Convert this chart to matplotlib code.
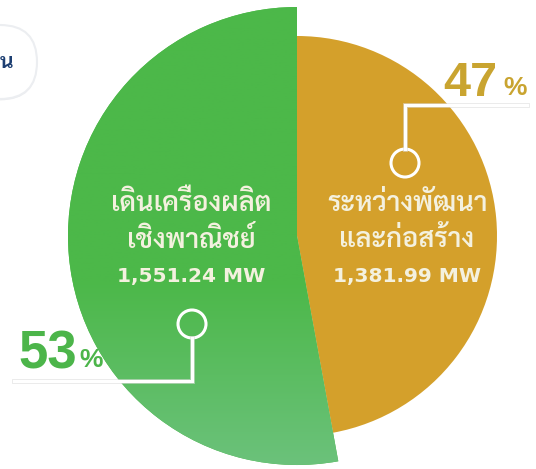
import matplotlib
matplotlib.use("Agg")
import numpy as np
import matplotlib.pyplot as plt
from matplotlib import font_manager
from matplotlib.patches import Circle, FancyBboxPatch
import matplotlib.patheffects as pe

# ---------------- data ----------------
categories = ["เดินเครื่องผลิต\nเชิงพาณิชย์", "ระหว่างพัฒนา\nและก่อสร้าง"]
capacity_mw = [1551.24, 1381.99]
percent_labels = ["53", "47"]
mw_labels = ["1,551.24 MW", "1,381.99 MW"]

# ---------------- fonts ----------------
available = {f.name for f in font_manager.fontManager.ttflist}
thai_font = next((n for n in ["Sarabun", "Noto Sans Thai", "Prompt", "Kanit", "IBM Plex Sans Thai"]
                  if n in available), "DejaVu Sans")
FAM = [thai_font, "DejaVu Sans"]
NUMFAM = ["Liberation Sans", "DejaVu Sans"]
MWFAM = ["DejaVu Sans"]

W, H = 536, 469
fig = plt.figure(figsize=(W / 100, H / 100), dpi=100)
ax = fig.add_axes([0, 0, 1, 1])

def Y(y):
    return H - y

GREEN = "#4cb849"
GOLD = "#d4a02b"
CX, CY = 297, Y(236)

wedges, _ = ax.pie(capacity_mw, startangle=90, counterclock=True,
                   center=(CX, CY), radius=229, colors=[GREEN, GOLD],
                   wedgeprops=dict(linewidth=0))
wedges[1].set_radius(200)

# green gradient (lighter towards bottom)
grad = np.linspace(0, 1, 256)[:, None]
c_top = np.array([76, 184, 73]) / 255
c_bot = np.array([108, 194, 124]) / 255
t = np.clip((grad - 0.6) / 0.4, 0, 1)
img = c_top[None, None, :] * (1 - t[..., None]) + c_bot[None, None, :] * t[..., None]
im = ax.imshow(img, extent=(CX - 240, CX + 240, Y(470), Y(0)), origin="upper",
               aspect="auto", zorder=1.5)
im.set_clip_path(wedges[0])

ax.set_xlim(0, W)
ax.set_ylim(0, H)
ax.set_aspect("auto")
ax.axis("off")

# top-left partial pill box
box = FancyBboxPatch((-120, Y(99)), 157, 74, boxstyle="round,pad=0,rounding_size=37",
                     fc="white", ec="#eceef1", lw=1.5, zorder=0.5,
                     path_effects=[pe.SimplePatchShadow(offset=(0, -1), shadow_rgbFace="#d8dadf", alpha=0.5),
                                   pe.Normal()])
ax.add_patch(box)
ax.text(0, Y(62), "น", family=FAM, fontsize=15, fontweight="bold", color="#1d3f72",
        ha="left", va="center")

TXT = "#f4f1df"
# slice labels
lines_g = categories[0].split("\n") + [mw_labels[0]]
lines_o = categories[1].split("\n") + [mw_labels[1]]
ys = [204, 240, 276]
for i, (lg, lo) in enumerate(zip(lines_g, lines_o)):
    fam = FAM if i < 2 else MWFAM
    fs = 19.5 if i < 2 else 14.5
    fw = "semibold" if i < 2 else "bold"
    ax.text(191, Y(ys[i]), lg, family=fam, fontsize=fs, fontweight=fw, color=TXT,
            ha="center", va="center", zorder=5)
    ax.text(407, Y(ys[i]), lo, family=fam, fontsize=fs, fontweight=fw, color=TXT,
            ha="center", va="center", zorder=5)

# leader lines
shadow = [pe.Stroke(linewidth=3.5, foreground="#dcdcdc", alpha=0.6), pe.Normal()]
LW = 2.2
# gold
ax.add_patch(Circle((405, Y(163)), 14, fill=False, ec="white", lw=LW, zorder=6))
ax.plot([405, 405, 527], [Y(149), Y(105), Y(105)], color="white", lw=LW,
        solid_joinstyle="miter", zorder=6, path_effects=shadow)
# green
ax.add_patch(Circle((192, Y(324)), 14, fill=False, ec="white", lw=LW, zorder=6))
ax.plot([192, 192, 14], [Y(338), Y(381), Y(381)], color="white", lw=LW,
        solid_joinstyle="miter", zorder=6, path_effects=shadow)

# percentage labels
ax.text(497, Y(83), percent_labels[1], family=NUMFAM, fontsize=35, fontweight="bold",
        color="#c9a430", ha="right", va="center", zorder=6)
ax.text(503, Y(88), "%", family=NUMFAM, fontsize=19, fontweight="bold",
        color="#c9a430", ha="left", va="center", zorder=6)
ax.text(77, Y(354), percent_labels[0], family=NUMFAM, fontsize=38, fontweight="bold",
        color="#4cb54a", ha="right", va="center", zorder=6)
ax.text(79, Y(360), "%", family=NUMFAM, fontsize=19, fontweight="bold",
        color="#4cb54a", ha="left", va="center", zorder=6)

fig.savefig("out.png", dpi=100)
